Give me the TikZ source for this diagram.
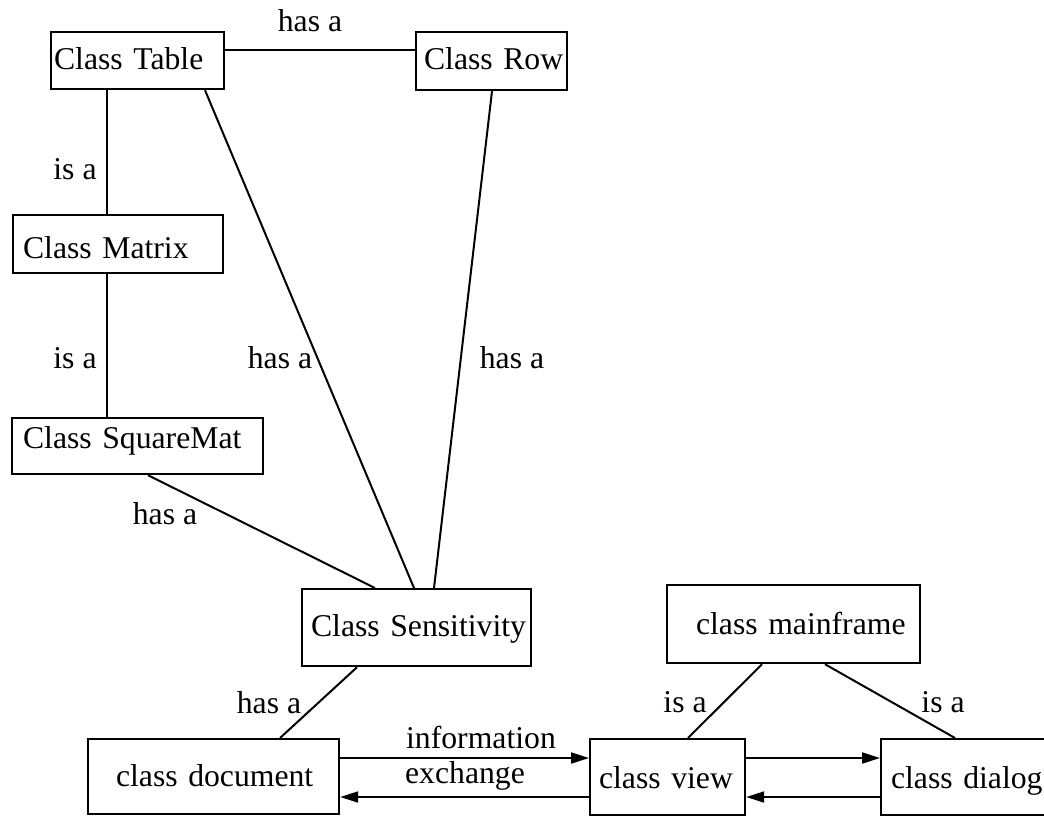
\documentclass[tikz,border=0pt]{standalone}
\usepackage{fontspec}
\setmainfont{Liberation Serif}
\usetikzlibrary{arrows.meta}
\begin{document}
\begin{tikzpicture}[x=0.5pt,y=-0.5pt,
  font=\fontsize{15.85pt}{19pt}\selectfont,
  box/.style={draw, line width=1.1pt, rectangle, inner sep=0pt, anchor=north west, align=left, text depth=0pt},
  link/.style={line width=1pt},
  flow/.style={line width=1pt, -{Triangle[length=9pt,width=5.5pt]}},
  lbl/.style={anchor=base, inner sep=0pt}]
\useasboundingbox (0,0) rectangle (1044,816);
\clip (0,0) rectangle (1044,816);
% class boxes
\node[box, minimum width=86.5pt, minimum height=28.5pt, text width=86.5pt, text height=8.5pt] (table) at (50,31) {\mbox{\hspace{1.5pt}Class Table}};
\node[box, minimum width=75.5pt, minimum height=29pt, text width=75.5pt, text height=8pt] (row) at (415,31) {\mbox{\hspace{4pt}Class Row}};
\node[box, minimum width=105pt, minimum height=29pt, text width=105pt, text height=14pt] (matrix) at (12,214) {\mbox{\hspace{5pt}Class Matrix}};
\node[box, minimum width=125.5pt, minimum height=28pt, text width=125.5pt, text height=2pt] (square) at (11,417) {\mbox{\hspace{5.5pt}Class SquareMat}};
\node[box, minimum width=114.5pt, minimum height=38.5pt, text width=114.5pt, text height=8.5pt] (sens) at (301,588) {\mbox{\hspace{4.5pt}Class Sensitivity}};
\node[box, minimum width=126.5pt, minimum height=39pt, text width=126.5pt, text height=10pt] (mainframe) at (666,584) {\mbox{\hspace{14.5pt}class mainframe}};
\node[box, minimum width=125.5pt, minimum height=37.5pt, text width=125.5pt, text height=9.5pt] (document) at (87,738) {\mbox{\hspace{14pt}class document}};
\node[box, minimum width=77.5pt, minimum height=38pt, text width=77.5pt, text height=11pt] (view) at (589,738) {\mbox{\hspace{4.5pt}class view}};
\node[box, minimum width=100pt, minimum height=38pt, text width=100pt, text height=11pt] (dialog) at (880,738) {\mbox{\hspace{5pt}class dialog}};
% relations
\draw[link] (table.east |- 0,50) -- (row.west |- 0,50);
\node[lbl] (l1) at (310,31) {has a};
\draw[link] (table.south -| 107,0) -- (matrix.north -| 107,0);
\node[lbl] (l2) at (75,179) {is a};
\draw[link] (matrix.south -| 107,0) -- (square.north -| 107,0);
\node[lbl] (l3) at (75,368) {is a};
\draw[link] (table.south -| 205,0) -- (sens.north -| 414,0);
\node[lbl] (l4) at (280,368) {has a};
\draw[link] (row.south -| 492,0) -- (sens.north -| 434,0);
\node[lbl] (l5) at (512,368) {has a};
\draw[link] (square.south -| 148,0) -- (sens.north -| 375,0);
\node[lbl] (l6) at (165,524) {has a};
\draw[link] (sens.south -| 357,0) -- (document.north -| 280,0);
\node[lbl] (l7) at (269,713) {has a};
\draw[link] (mainframe.south -| 762,0) -- (view.north -| 688,0);
\node[lbl] (l8) at (685,712) {is a};
\draw[link] (mainframe.south -| 825,0) -- (dialog.north -| 955,0);
\node[lbl] (l9) at (943,712) {is a};
% information exchange
\draw[flow] (document.east |- 0,758) -- (view.west |- 0,758);
\draw[flow] (view.west |- 0,797) -- (document.east |- 0,797);
\node[lbl] (info) at (481,748) {information};
\node[lbl] (exch) at (465,783) {exchange};
\draw[flow] (view.east |- 0,758) -- (dialog.west |- 0,758);
\draw[flow] (dialog.west |- 0,797) -- (view.east |- 0,797);
\end{tikzpicture}
\end{document}
